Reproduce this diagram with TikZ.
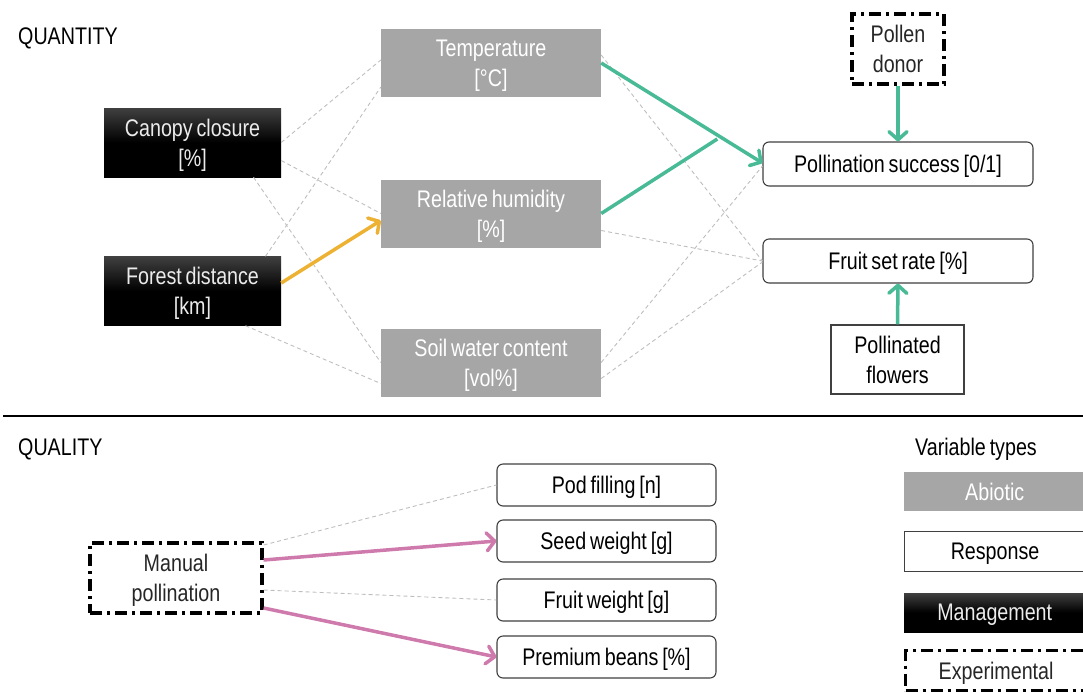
\documentclass[tikz,border=0pt]{standalone}
\usepackage{fontspec}
\setmainfont{Liberation Sans}[FakeStretch=0.82, WordSpace=0.7]
\usetikzlibrary{arrows.meta, calc}

\definecolor{abiogray}{RGB}{166,166,166}
\definecolor{linkgreen}{RGB}{72,186,150}
\definecolor{linkorange}{RGB}{237,178,52}
\definecolor{linkpink}{RGB}{206,122,172}
\definecolor{dashgray}{RGB}{190,190,190}

\begin{document}
\begin{tikzpicture}[x=1pt, y=-1pt,
    every node/.style={font=\fontsize{24}{30}\selectfont, align=center, inner sep=0pt, text depth=0pt},
    abiotic/.style={fill=abiogray, text=white, minimum width=220pt, minimum height=68pt},
    mgmt/.style={top color=black!75, bottom color=black, middle color=black, text=black!8, minimum width=177pt, minimum height=69pt},
    response/.style={draw=black!75, line width=1.1pt, rounded corners=6pt, fill=white, minimum width=270pt, minimum height=44pt},
    expbox/.style={draw=black, line width=3.2pt, dash pattern=on 12pt off 5pt on 3pt off 5pt, text=black!85},
    weak/.style={dashgray, line width=0.9pt, dash pattern=on 4pt off 3pt},
    strong/.style={line width=3.5pt, -{Straight Barb[length=8pt, width=18pt, round]}}]
    \useasboundingbox (0,0) rectangle (1083,691);
    \clip (0,0) rectangle (1083,691);

    % Quantity part
    \node[anchor=west] (quant) at (18,36) {QUANTITY};
    \node[mgmt] (canopy) at (192.5,142.5) {Canopy closure\\{}[\%]};
    \node[mgmt] (forest) at (192.5,291) {Forest distance\\{}[km]};
    \node[abiotic] (temp) at (491,63) {Temperature\\{}[°C]};
    \node[abiotic] (rh) at (491,213.5) {Relative humidity\\{}[\%]};
    \node[abiotic] (soil) at (491,362.5) {Soil water content\\{}[vol\%]};
    \node[response] (ps) at (898,164) {Pollination success [0/1]};
    \node[response] (fsr) at (898,261) {Fruit set rate [\%]};
    \node[expbox, minimum width=92pt, minimum height=70pt] (donor) at (898,49) {Pollen\\donor};
    \node[draw=black!75, line width=1.1pt, minimum width=133pt, minimum height=69pt] (flowers) at (897.5,359.5) {Pollinated\\flowers};

    % Weak links
    \draw[weak] (canopy.east) -- ([yshift=3pt]temp.west);
    \draw[weak] ([yshift=-18pt]canopy.east) -- (rh.west);
    \draw[weak] ([xshift=61pt]canopy.south) -- (soil.west);
    \draw[weak] ([xshift=73pt]forest.north) -- ([yshift=-24pt]temp.west);
    \draw[weak] ([xshift=53pt]forest.south) -- ([yshift=-21pt]soil.west);
    \draw[weak] ([yshift=8pt]temp.east) -- (fsr.west);
    \draw[weak] ([yshift=-17pt]rh.east) -- (fsr.west);
    \draw[weak] (soil.east) -- ([yshift=-2pt]ps.west);
    \draw[weak] ([yshift=-16pt]soil.east) -- ([yshift=-1pt]fsr.west);

    % Strong links
    \draw[strong, linkgreen] (temp.east) -- coordinate[pos=0.72] (tempjoin) ([yshift=1pt]ps.west);
    \draw[linkgreen, line width=3.5pt] (rh.east) -- ([yshift=-4pt]tempjoin);
    \draw[strong, linkgreen] (donor.south) -- (ps.north);
    \draw[strong, linkgreen] (flowers.north) -- (fsr.south);
    \draw[strong, linkorange] ([yshift=8pt]forest.east) -- ([yshift=-7pt]rh.west);

    % Divider
    \draw[line width=2pt] (3,416) -- (1083,416);

    % Quality part
    \node[anchor=west] (qual) at (18,447) {QUALITY};
    \node[expbox, minimum width=172pt, minimum height=70pt] (manual) at (176,578) {Manual\\pollination};
    \node[response, minimum width=219pt, minimum height=42pt] (pod) at (606.5,485) {Pod filling [n]};
    \node[response, minimum width=219pt, minimum height=42pt] (seed) at (606.5,541) {Seed weight [g]};
    \node[response, minimum width=219pt, minimum height=42pt] (fw) at (606.5,600) {Fruit weight [g]};
    \node[response, minimum width=219pt, minimum height=42pt] (prem) at (606.5,657) {Premium beans [\%]};

    \draw[weak] ([yshift=33pt]manual.east) -- (pod.west);
    \draw[strong, linkpink] ([yshift=18pt]manual.east) -- (seed.west);
    \draw[weak] ([yshift=-12pt]manual.east) -- (fw.west);
    \draw[strong, linkpink] ([yshift=-30pt]manual.east) -- (prem.west);

    % Legend
    \node (vtypes) at (976,447) {Variable types};
    \node[abiotic, minimum width=181pt, minimum height=39pt, anchor=west] (legabio) at (904,491.5) {Abiotic};
    \node[draw=black!75, line width=1.1pt, minimum width=181pt, minimum height=40pt, anchor=west] (legresp) at (904,551.5) {Response};
    \node[mgmt, minimum width=181pt, minimum height=39pt, anchor=west] (legmgmt) at (904,612.5) {Management};
    \node[expbox, minimum width=181pt, minimum height=40pt, anchor=west] (legexp) at (904,670.5) {Experimental};
\end{tikzpicture}
\end{document}
